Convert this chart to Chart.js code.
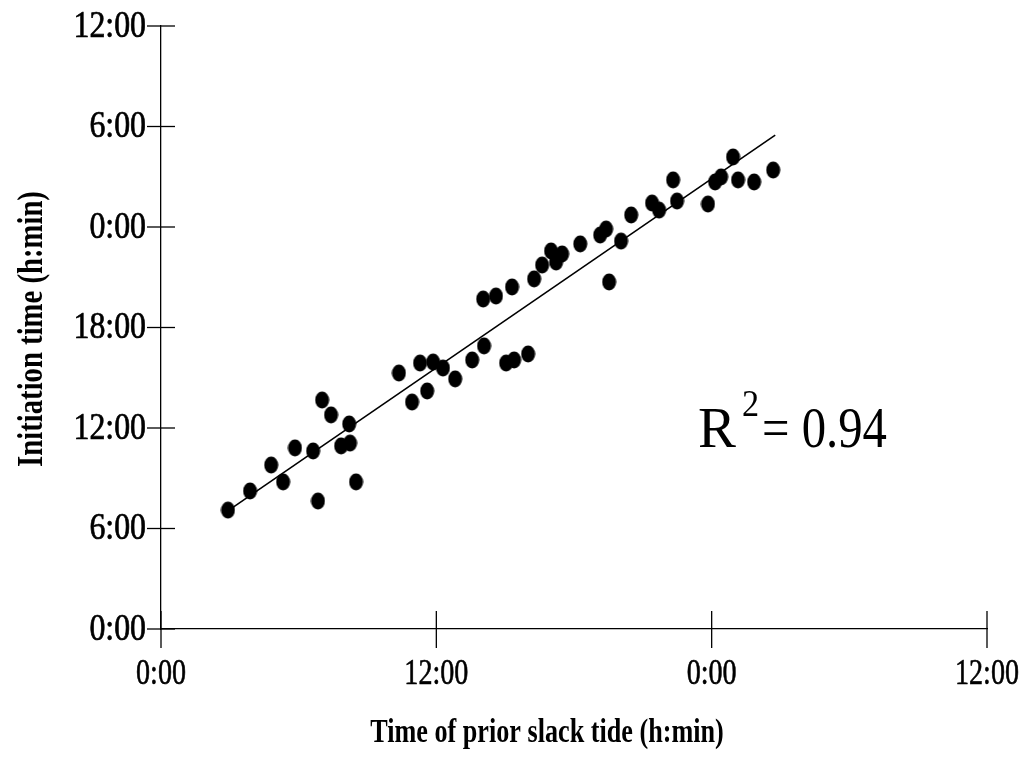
<!DOCTYPE html>
<html>
<head>
<meta charset="utf-8">
<script src="https://cdn.jsdelivr.net/npm/chart.js@4.4.1/dist/chart.umd.min.js"></script>
<style>
  html, body { margin: 0; padding: 0; background: #fff; }
  #wrap { width: 1024px; height: 759px; }
</style>
</head>
<body>
<div id="wrap"><canvas id="chart"></canvas></div>
<script>
// times in hours, counted from 0:00 of the first day (24 = next midnight)
const slackTime = [2.92, 3.88, 4.80, 5.32, 5.84, 6.63, 6.84, 7.02, 7.41, 8.20,
  7.85, 8.24, 8.50, 10.37, 10.94, 11.29, 11.60, 11.86, 12.29, 12.82,
  13.56, 14.08, 14.04, 14.60, 15.30, 15.04, 15.39, 16.00, 16.26, 16.61,
  17.00, 17.22, 17.48, 18.27, 19.14, 19.40, 20.05, 19.53, 20.49, 21.40,
  21.71, 22.32, 22.49, 23.84, 24.15, 24.41, 24.93, 25.15, 25.85, 26.68];
const initTime = [7.10, 8.24, 9.79, 8.78, 10.81, 10.63, 7.64, 13.67, 12.78, 12.24,
  10.93, 11.10, 8.78, 15.28, 13.55, 15.88, 14.21, 15.94, 15.58, 14.93,
  16.06, 16.90, 19.70, 19.88, 20.42, 15.88, 16.06, 16.42, 20.90, 21.73,
  22.57, 21.91, 22.39, 22.99, 23.52, 23.88, 23.16, 20.72, 24.72, 25.43,
  25.01, 26.81, 25.55, 25.37, 26.69, 26.99, 28.18, 26.81, 26.69, 27.40];

// regression line end points
const fitX = [2.96, 26.77];
const fitY = [7.10, 29.49];

const xTickLabels = ['0:00', '12:00', '0:00', '12:00'];
const yTickLabels = ['0:00', '6:00', '12:00', '18:00', '0:00', '6:00', '12:00'];

const xTitle = 'Time of prior slack tide (h:min)';
const yTitle = 'Initiation time (h:min)';
const r2Value = '0.94';

// slightly tall filled dot, like the scanned figure
const dot = document.createElement('canvas');
dot.width = 15; dot.height = 18;
(function () {
  const c = dot.getContext('2d');
  c.fillStyle = '#000';
  c.beginPath();
  c.ellipse(7.5, 9, 7, 8.5, 0, 0, Math.PI * 2);
  c.fill();
})();

function drawText(ctx, str, x, y, font, sx, align, baseline, rot, heavy) {
  ctx.save();
  ctx.font = font;
  ctx.fillStyle = '#000';
  ctx.strokeStyle = '#000';
  ctx.lineWidth = heavy || 0;
  ctx.textAlign = align;
  ctx.textBaseline = baseline;
  ctx.translate(x, y);
  if (rot) ctx.rotate(rot);
  ctx.scale(sx, 1);
  ctx.fillText(str, 0, 0);
  if (heavy) ctx.strokeText(str, 0, 0);
  ctx.restore();
}

// crossing tick marks, condensed serif labels, titles and R² note
const axisDecor = {
  id: 'axisDecor',
  afterDraw(chart) {
    const { ctx, scales: { x, y } } = chart;
    const ax = x.left;
    const ay = y.bottom;
    ctx.save();
    ctx.strokeStyle = '#000';
    ctx.lineWidth = 1.3;
    y.ticks.forEach((t, i) => {
      const py = y.getPixelForValue(t.value);
      ctx.beginPath();
      ctx.moveTo(ax - 14, py);
      ctx.lineTo(ax + 14, py);
      ctx.stroke();
      drawText(ctx, yTickLabels[i], ax - 15, py + 1, '37px "Liberation Serif"', 0.86, 'right', 'middle', 0, 0.7);
    });
    x.ticks.forEach((t, i) => {
      const px = x.getPixelForValue(t.value);
      ctx.beginPath();
      ctx.moveTo(px, ay - 18);
      ctx.lineTo(px, ay + 19);
      ctx.stroke();
      drawText(ctx, xTickLabels[i], px, ay + 55, '36px "Liberation Serif"', 0.78, 'center', 'alphabetic', 0, 0.6);
    });
    ctx.restore();

    drawText(ctx, xTitle, 547, 742, 'bold 34px "Liberation Serif"', 0.77, 'center', 'alphabetic');
    drawText(ctx, yTitle, 42, 329, 'bold 35px "Liberation Serif"', 0.82, 'center', 'alphabetic', -Math.PI / 2);

    drawText(ctx, 'R', 698, 447, '58px "Liberation Serif"', 0.98, 'left', 'alphabetic');
    drawText(ctx, '2', 742, 416, '38px "Liberation Serif"', 0.9, 'left', 'alphabetic');
    drawText(ctx, '= ' + r2Value, 762, 447, '58px "Liberation Serif"', 0.84, 'left', 'alphabetic');
  }
};

const ctx = document.getElementById('chart').getContext('2d');

new Chart(ctx, {
  type: 'scatter',
  data: {
    datasets: [
      {
        label: 'Observations',
        data: slackTime.map((v, i) => ({ x: v, y: initTime[i] })),
        pointStyle: dot,
        pointRadius: 8,
        backgroundColor: '#000',
        borderColor: '#000'
      },
      {
        type: 'line',
        label: 'Fit',
        data: fitX.map((v, i) => ({ x: v, y: fitY[i] })),
        borderColor: '#000',
        borderWidth: 1.6,
        pointRadius: 0,
        fill: false
      }
    ]
  },
  options: {
    responsive: true,
    maintainAspectRatio: false,
    animation: false,
    layout: { padding: { left: 161, right: 37, top: 26, bottom: 130 } },
    plugins: {
      legend: { display: false },
      tooltip: { enabled: false }
    },
    scales: {
      x: {
        type: 'linear',
        min: 0,
        max: 36,
        ticks: { stepSize: 12, display: false },
        grid: { display: false, drawTicks: false, tickLength: 0 },
        border: { display: true, color: '#000', width: 1.3 }
      },
      y: {
        type: 'linear',
        min: 0,
        max: 36,
        ticks: { stepSize: 6, display: false },
        grid: { display: false, drawTicks: false, tickLength: 0 },
        border: { display: true, color: '#000', width: 1.3 }
      }
    }
  },
  plugins: [axisDecor]
});
</script>
</body>
</html>
